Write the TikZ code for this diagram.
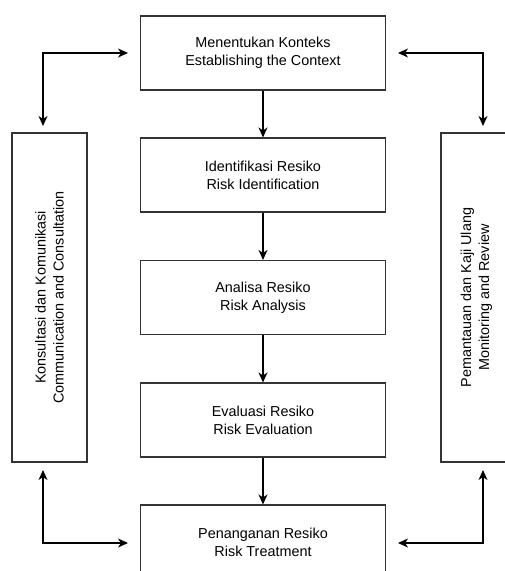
\documentclass[tikz,border=0pt]{standalone}
\usepackage{fontspec}
\setmainfont{Liberation Sans}
\usetikzlibrary{arrows.meta,calc}
\begin{document}
\begin{tikzpicture}[x=1pt,y=-1pt,
  box/.style={draw=black!80,line width=1.1pt,fill=white,align=center,inner sep=0pt,font=\fontsize{14.4}{18}\selectfont},
  mainbox/.style={box,minimum width=245pt,minimum height=74pt},
  sidebox/.style={box,rotate=90,minimum width=329pt,minimum height=75pt},
  arr/.style={line width=1.3pt,-{Stealth[length=10pt,width=9pt,inset=3pt]}},
  darr/.style={line width=1.2pt,{Stealth[length=10pt,width=9pt,inset=3pt]}-{Stealth[length=10pt,width=9pt,inset=3pt]}}]
\useasboundingbox (0,0) rectangle (505,571);
\node[mainbox] (b1) at (263,53) {Menentukan Konteks\\Establishing the Context};
\node[mainbox] (b2) at (263,175) {Identifikasi Resiko\\Risk Identification};
\node[mainbox] (b3) at (263,297.5) {Analisa Resiko\\Risk Analysis};
\node[mainbox] (b4) at (263,420) {Evaluasi Resiko\\Risk Evaluation};
\node[mainbox] (b5) at (263,542) {Penanganan Resiko\\Risk Treatment};
\node[sidebox] (lb) at (49.5,297.5) {Konsultasi dan Komunikasi\\Communication and Consultation};
\node[sidebox,minimum height=71pt] (rb) at (476.5,297.5) {Pemantauan dan Kaji Ulang\\Monitoring and Review};
\draw[arr] (b1.south) -- (b2.north);
\draw[arr] (b2.south) -- (b3.north);
\draw[arr] (b3.south) -- (b4.north);
\draw[arr] (b4.south) -- (b5.north);
\coordinate (lt1) at (128,53);
\coordinate (lt2) at (43,126);
\coordinate (lt3) at (43,470);
\coordinate (lt4) at (128,543);
\coordinate (rt1) at (398,53);
\coordinate (rt2) at (483,126);
\coordinate (rt3) at (483,470);
\coordinate (rt4) at (398,543);
\draw[darr] (lt1) -| (lt2);
\draw[darr] (lt3) |- (lt4);
\draw[darr] (rt1) -| (rt2);
\draw[darr] (rt3) |- (rt4);
\end{tikzpicture}
\end{document}
